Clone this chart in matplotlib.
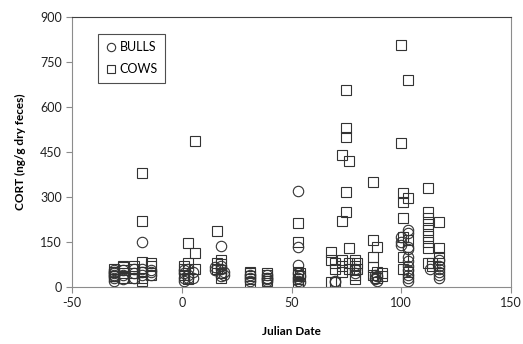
import matplotlib
matplotlib.use("Agg")
import matplotlib.pyplot as plt

plt.rcParams['font.family'] = ['Lato', 'DejaVu Sans']
plt.rcParams['axes.unicode_minus'] = False

# bulls: (julian date, CORT)
bull_x = [-31, -31, -31, -31, -31, -31, -31, -27, -27, -27, -22, -22, -22,
          -18, -18, -18, -18, -14, -14, -14, 1, 1, 1, 1, 3, 3, 3, 5, 5,
          15, 15, 18, 18, 18, 18, 18, 19, 19, 31, 31, 31, 39, 39, 39, 39,
          53, 53, 53, 53, 53, 53, 54, 54, 70, 70, 79, 79, 88, 88, 88, 89, 89,
          100, 100, 100, 103, 103, 103, 103, 103, 103, 103, 103, 103, 103, 103,
          117, 117, 117, 117, 117, 117, 113]
bull_y = [20, 30, 40, 50, 55, 45, 35, 25, 40, 55, 30, 45, 60,
          150, 40, 50, 60, 40, 50, 55, 20, 30, 45, 55, 40, 60, 30, 30, 50,
          55, 65, 137, 60, 45, 70, 35, 50, 40, 20, 30, 40, 20, 30, 40, 25,
          320, 133, 73, 45, 30, 20, 35, 15, 15, 20, 45, 60, 30, 40, 25, 20, 35,
          165, 150, 140, 190, 180, 133, 125, 100, 85, 70, 55, 40, 30, 20,
          30, 40, 50, 60, 70, 90, 60]

# cows: (julian date, CORT)
cow_x = [-31, -31, -31, -27, -27, -27, -27, -27, -22, -22, -22, -22,
         -18, -18, -18, -18, -18, -18, -14, -14, -14, 1, 1, 1, 3, 3, 3,
         6, 6, 6, 16, 16, 16, 18, 18, 18, 18, 31, 31, 31, 31, 31,
         39, 39, 39, 39, 53, 53, 53, 53, 53, 53, 54, 54, 68, 68, 68,
         70, 70, 70, 73, 73, 73, 73, 73, 75, 75, 75, 75, 75, 76, 76, 76, 76,
         79, 79, 79, 79, 79, 80, 80, 87, 87, 87, 87, 87, 89, 89, 89, 91, 91,
         101, 101, 101, 101, 101, 101, 100, 100, 103, 103, 103, 103,
         112, 112, 112, 112, 112, 112, 112, 112, 112, 114, 114,
         117, 117, 117, 117]
cow_y = [35, 50, 60, 45, 55, 65, 70, 30, 30, 45, 60, 70,
         380, 218, 83, 50, 30, 20, 80, 70, 40, 40, 60, 70, 147, 80, 25,
         113, 485, 60, 185, 60, 80, 45, 75, 90, 30, 15, 25, 35, 45, 50,
         20, 30, 40, 45, 213, 148, 50, 40, 25, 10, 35, 45, 117, 90, 17,
         17, 60, 80, 440, 220, 90, 70, 50, 657, 530, 500, 317, 250, 420, 130, 80, 60,
         90, 70, 55, 40, 25, 60, 80, 350, 157, 100, 67, 40, 133, 50, 30, 35, 45,
         313, 283, 230, 167, 100, 60, 805, 480, 690, 297, 157, 50,
         330, 250, 230, 210, 190, 170, 150, 130, 80, 80, 70,
         217, 130, 100, 80]

fig = plt.figure(figsize=(5.23, 3.44), dpi=100)
ax = fig.add_axes([0.138, 0.166, 0.839, 0.785])

ax.plot(bull_x, bull_y, 'o', ms=7.5, mfc='none', mec='#333333', mew=0.8, label='BULLS')
ax.plot(cow_x, cow_y, 's', ms=7, mfc='none', mec='#333333', mew=0.8, label='COWS')

ax.set_xlim(-50, 150)
ax.set_ylim(0, 900)
ax.set_xticks([-50, 0, 50, 100, 150])
ax.set_yticks([0, 150, 300, 450, 600, 750, 900])
ax.tick_params(axis='both', labelsize=9, colors='#8c8c8c', labelcolor='#222222',
               direction='out', length=4, width=0.8)

for side in ['left', 'bottom', 'right']:
    ax.spines[side].set_color('#8c8c8c')
ax.spines['top'].set_color('#404040')

ax.set_xlabel('Julian Date', fontsize=8.5, fontweight='bold', labelpad=12)
ax.set_ylabel('CORT (ng/g dry feces)', fontsize=8.5, fontweight='bold', labelpad=10)

leg = ax.legend(loc='upper left', bbox_to_anchor=(0.045, 0.96), fontsize=9,
                frameon=True, fancybox=False, handlelength=0.8, handletextpad=0.3,
                borderpad=0.6, labelspacing=0.8, markerscale=0.8)
leg.get_frame().set_edgecolor('#222222')
leg.get_frame().set_linewidth(0.8)

fig.savefig('out.png', dpi=100)
